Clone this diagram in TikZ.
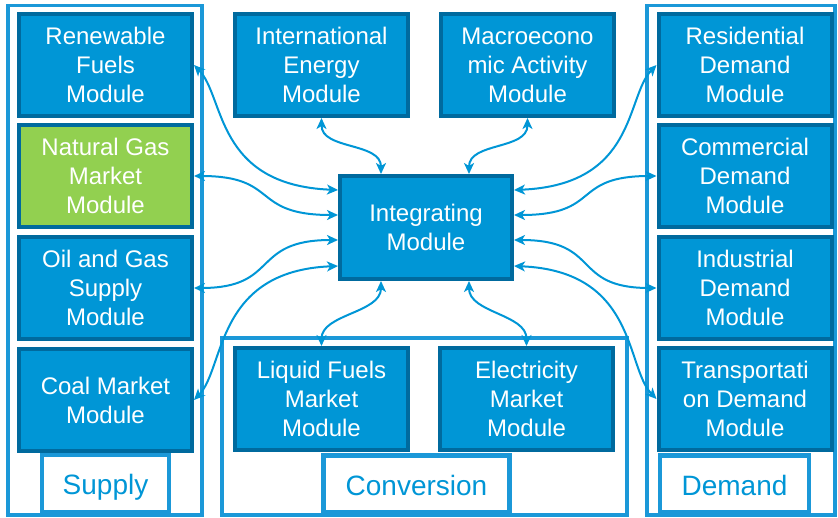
\documentclass[tikz,border=0pt]{standalone}
\usepackage{fontspec}
\setmainfont{Liberation Sans}
\usetikzlibrary{arrows.meta,calc,positioning}
\definecolor{modfill}{HTML}{0096D6}
\definecolor{modline}{HTML}{006A9E}
\definecolor{grpline}{HTML}{1B98D8}
\definecolor{gasfill}{HTML}{92D050}

\begin{document}
\begin{tikzpicture}[x=1pt,y=1pt,>={Stealth[length=11pt,width=10pt,inset=3pt]},
  module/.style={rectangle,draw=modline,fill=modfill,line width=4pt,text=white,
    minimum width=173pt,minimum height=102pt,align=center,inner sep=2pt,
    font=\fontsize{24}{29}\selectfont},
  group/.style={draw=grpline,line width=3.5pt},
  group label/.style={rectangle,draw=grpline,fill=white,line width=4.5pt,text=modfill,
    minimum height=57pt,text height=22pt,text depth=0pt,font=\fontsize{28}{32}\selectfont},
  link/.style={<->,draw=modfill,line width=2pt}]
\useasboundingbox (0,0) rectangle (838,-517);

% the three groups
\draw[group] (8,-5.5) rectangle (202,-515);
\draw[group] (222,-338) rectangle (627,-515);
\draw[group] (647,-5.5) rectangle (835,-515);
\node[group label,minimum width=127pt] (supply) at (105.5,-483.5) {Supply};
\node[group label,minimum width=186pt] (conversion) at (416.5,-484) {Conversion};
\node[group label,minimum width=149pt] (demand) at (734.5,-484) {Demand};

% supply modules
\node[module] (ren) at (105.5,-65) {Renewable\\Fuels\\Module};
\node[module,fill=gasfill] (gas) at (105.5,-176) {Natural Gas\\Market\\Module};
\node[module] (oil) at (105.5,-288) {Oil and Gas\\Supply\\Module};
\node[module] (coal) at (105.5,-400) {Coal Market\\Module};

% top and centre
\node[module] (iem) at (321.5,-65) {International\\Energy\\Module};
\node[module] (mac) at (527.5,-65) {Macroecono\\mic Activity\\Module};
\node[module,minimum width=172pt,minimum height=103pt] (intm) at (426,-227.5) {Integrating\\Module};

% conversion modules
\node[module] (liq) at (321.5,-399) {Liquid Fuels\\Market\\Module};
\node[module] (ele) at (526.5,-399) {Electricity\\Market\\Module};

% demand modules
\node[module] (res) at (745,-65) {Residential\\Demand\\Module};
\node[module] (com) at (745,-176) {Commercial\\Demand\\Module};
\node[module] (ind) at (745,-288) {Industrial\\Demand\\Module};
\node[module] (tra) at (745,-399) {Transportati\\on Demand\\Module};

% links to the integrating module
\draw[link] (ren.east) .. controls +(31,-32) and +(-123,5) .. ($(intm.west)+(0,37.5)$);
\draw[link] (gas.east) .. controls +(86,0) and +(-88,0) .. ($(intm.west)+(0,12.5)$);
\draw[link] (oil.east) .. controls +(86,0) and +(-88,0) .. ($(intm.west)+(0,-12.5)$);
\draw[link] (coal.east) .. controls +(31,32) and +(-123,-5) .. ($(intm.west)+(0,-38.5)$);
\draw[link] (res.west) .. controls +(-31,-32) and +(123,5) .. ($(intm.east)+(0,37.5)$);
\draw[link] (com.west) .. controls +(-86,0) and +(88,0) .. ($(intm.east)+(0,12.5)$);
\draw[link] (ind.west) .. controls +(-86,0) and +(88,0) .. ($(intm.east)+(0,-12.5)$);
\draw[link] (tra.west) .. controls +(-31,32) and +(123,-5) .. ($(intm.east)+(0,-38.5)$);
\draw[link] (iem.south) .. controls +(0,-32) and +(0,32) .. ($(intm.north)+(-45,0)$);
\draw[link] (mac.south) .. controls +(0,-32) and +(0,32) .. ($(intm.north)+(43,0)$);
\draw[link] (liq.north) .. controls +(0,32) and +(0,-32) .. ($(intm.south)+(-45,0)$);
\draw[link] (ele.north) .. controls +(0,32) and +(0,-32) .. ($(intm.south)+(43,0)$);
\end{tikzpicture}
\end{document}
